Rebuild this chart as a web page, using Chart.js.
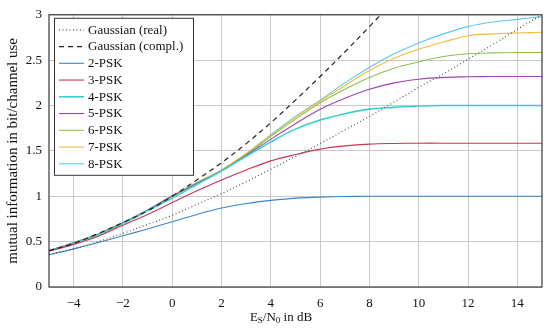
<!DOCTYPE html>
<html>
<head>
<meta charset="utf-8">
<script src="https://cdn.jsdelivr.net/npm/chart.js@4.4.1/dist/chart.umd.min.js"></script>
<style>
  html, body { margin: 0; padding: 0; background: #fff; }
  #wrap { width: 550px; height: 329px; }
</style>
</head>
<body>
<div id="wrap"><canvas id="chart1" width="550" height="329"></canvas></div>
<script>
// Es/N0 in dB
var snr = [-5, -4, -3, -2, -1, 0, 1, 2, 3, 4, 5, 6, 7, 8, 9, 10, 11, 12, 13, 14, 15];

var gaussReal  = [0.36, 0.42, 0.50, 0.59, 0.69, 0.79, 0.91, 1.03, 1.16, 1.30, 1.44, 1.58, 1.73, 1.88, 2.04, 2.20, 2.35, 2.51, 2.67, 2.84, 3.00];
var gaussCompl = [0.40, 0.48, 0.59, 0.71, 0.84, 1.00, 1.18, 1.37, 1.58, 1.81, 2.06, 2.32, 2.59, 2.87, 3.16];
var psk2 = [0.355, 0.42, 0.49, 0.565, 0.64, 0.72, 0.80, 0.87, 0.92, 0.955, 0.98, 0.99, 0.997, 1.0, 1.0, 1.0, 1.0, 1.0, 1.0, 1.0, 1.0];
var psk3 = [0.395, 0.47, 0.56, 0.68, 0.80, 0.93, 1.06, 1.18, 1.29, 1.39, 1.46, 1.52, 1.555, 1.575, 1.582, 1.585, 1.585, 1.585, 1.585, 1.585, 1.585];
var psk4 = [0.40, 0.48, 0.575, 0.70, 0.84, 0.98, 1.13, 1.28, 1.44, 1.60, 1.74, 1.84, 1.91, 1.96, 1.98, 1.995, 2.0, 2.0, 2.0, 2.0, 2.0];
var psk5 = [0.40, 0.485, 0.58, 0.705, 0.845, 1.0, 1.14, 1.28, 1.45, 1.63, 1.80, 1.96, 2.08, 2.18, 2.25, 2.29, 2.31, 2.317, 2.32, 2.32, 2.32];
var psk6 = [0.40, 0.49, 0.585, 0.71, 0.85, 1.005, 1.15, 1.28, 1.46, 1.66, 1.85, 2.03, 2.18, 2.31, 2.41, 2.48, 2.54, 2.57, 2.58, 2.584, 2.585];
var psk7 = [0.40, 0.49, 0.585, 0.71, 0.85, 1.005, 1.15, 1.29, 1.47, 1.67, 1.87, 2.05, 2.22, 2.385, 2.52, 2.62, 2.70, 2.77, 2.79, 2.80, 2.807];
var psk8 = [0.40, 0.49, 0.585, 0.71, 0.85, 1.005, 1.15, 1.29, 1.47, 1.68, 1.88, 2.06, 2.25, 2.42, 2.57, 2.69, 2.79, 2.87, 2.92, 2.95, 2.98];

var xTicks = [-4, -2, 0, 2, 4, 6, 8, 10, 12, 14];
var yTicks = [0, 0.5, 1, 1.5, 2, 2.5, 3];

var FONT = "'Liberation Serif', 'DejaVu Serif', serif";

function pts(values) {
    var out = [];
    for (var i = 0; i < values.length; i++) {
        out.push({ x: snr[i], y: values[i] });
    }
    return out;
}

function ds(label, values, color, width, dash) {
    return {
        label: label,
        data: pts(values),
        borderColor: color,
        backgroundColor: 'transparent',
        borderWidth: width,
        borderDash: dash || [],
        pointRadius: 0,
        tension: 0.35,
        fill: false
    };
}

// legend box inside the plot, top left, plus the x title with subscripts
var innerLegend = {
    id: 'innerLegend',
    afterDraw: function(chart) {
        var c = chart.ctx;
        var area = chart.chartArea;
        var x0 = area.left + 5, y0 = area.top + 3;
        var w = 139, rowH = 16.75;
        var sets = chart.data.datasets;
        var h = 157;
        c.save();
        c.fillStyle = '#fff';
        c.fillRect(x0, y0, w, h);
        c.strokeStyle = '#333';
        c.lineWidth = 1;
        c.strokeRect(x0 + 0.5, y0 + 0.5, w, h);
        c.font = '13px ' + FONT;
        c.textBaseline = 'middle';
        for (var i = 0; i < sets.length; i++) {
            var d = sets[i];
            var yy = y0 + 12 + i * rowH;
            c.beginPath();
            c.setLineDash(d.borderDash);
            c.strokeStyle = d.borderColor;
            c.lineWidth = d.borderWidth;
            c.moveTo(x0 + 5, yy);
            c.lineTo(x0 + 30, yy);
            c.stroke();
            c.setLineDash([]);
            c.fillStyle = '#111';
            c.fillText(d.label, x0 + 34, yy + 0.5);
        }
        var parts = [['E', 13, 0], ['S', 9, 3], ['/N', 13, 0], ['0', 9, 3], [' in dB', 13, 0]];
        var total = 0;
        for (var j = 0; j < parts.length; j++) {
            c.font = parts[j][1] + 'px ' + FONT;
            total += c.measureText(parts[j][0]).width;
        }
        var tx = 281 - total / 2;
        var ty = 318;
        for (var k = 0; k < parts.length; k++) {
            c.font = parts[k][1] + 'px ' + FONT;
            c.fillText(parts[k][0], tx, ty + parts[k][2]);
            tx += c.measureText(parts[k][0]).width;
        }
        c.restore();
    }
};

var frame = {
    id: 'frame',
    afterDatasetsDraw: function(chart) {
        var c = chart.ctx;
        var a = chart.chartArea;
        c.save();
        c.strokeStyle = '#3a3a3a';
        c.lineWidth = 1.2;
        c.strokeRect(a.left, a.top, a.right - a.left, a.bottom - a.top);
        c.restore();
    }
};

document.addEventListener("DOMContentLoaded", function() {
    var ctx1 = document.getElementById('chart1').getContext('2d');
    var chart1 = new Chart(ctx1, {
        type: 'line',
        data: {
            datasets: [
                ds('Gaussian (real)', gaussReal, '#555555', 1.2, [1, 2.5]),
                ds('Gaussian (compl.)', gaussCompl, '#222222', 1.2, [5, 4]),
                ds('2-PSK', psk2, '#3a87c9', 1.1),
                ds('3-PSK', psk3, '#c8364f', 1.1),
                ds('4-PSK', psk4, '#37cfd0', 1.6),
                ds('5-PSK', psk5, '#9a47b0', 1.1),
                ds('6-PSK', psk6, '#8dc24a', 1.1),
                ds('7-PSK', psk7, '#f6ba3f', 1.1),
                ds('8-PSK', psk8, '#5ec8f4', 1.1)
            ]
        },
        options: {
            responsive: false,
            animation: false,
            layout: { padding: { left: 0, right: 8, top: 12, bottom: 0 } },
            plugins: {
                legend: { display: false },
                tooltip: { enabled: false }
            },
            scales: {
                x: {
                    type: 'linear',
                    min: -5,
                    max: 15,
                    afterBuildTicks: function(scale) {
                        scale.ticks = xTicks.map(function(v) { return { value: v }; });
                    },
                    afterFit: function(scale) { scale.height = 42; },
                    grid: { color: '#c9c9c9', lineWidth: 1, drawTicks: false },
                    border: { display: false },
                    ticks: {
                        padding: 9,
                        color: '#111',
                        font: { family: FONT, size: 13 },
                        callback: function(value) {
                            return String(value).replace('-', '\u2212');
                        }
                    }
                },
                y: {
                    min: 0,
                    max: 3,
                    afterBuildTicks: function(scale) {
                        scale.ticks = yTicks.map(function(v) { return { value: v }; });
                    },
                    afterFit: function(scale) { scale.width = 49; },
                    grid: { color: '#c9c9c9', lineWidth: 1, drawTicks: false },
                    border: { display: false },
                    title: {
                        display: true,
                        text: 'mutual information in bit/channel use',
                        color: '#111',
                        font: { family: FONT, size: 15 },
                        padding: { top: 4, bottom: 0 }
                    },
                    ticks: {
                        padding: 7,
                        color: '#111',
                        font: { family: FONT, size: 13 },
                        callback: function(value) { return String(value); }
                    }
                }
            }
        },
        plugins: [frame, innerLegend]
    });
});
</script>
</body>
</html>
